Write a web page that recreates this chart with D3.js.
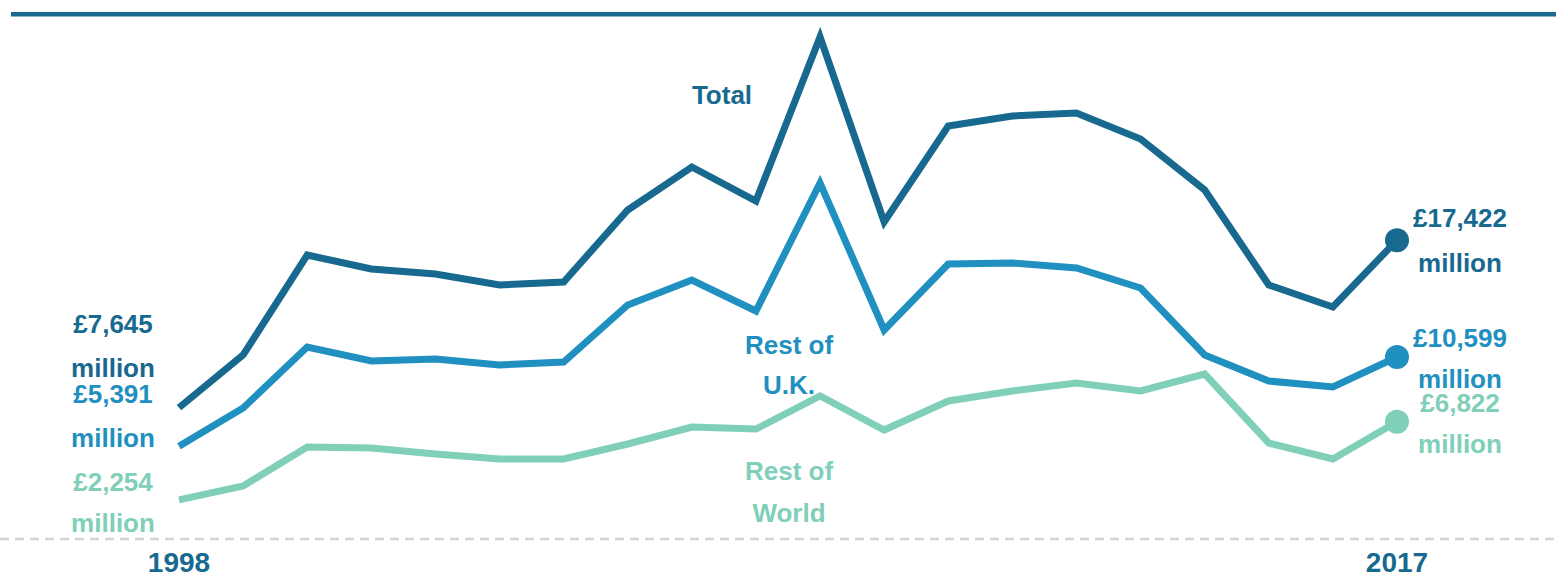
<!DOCTYPE html>
<html>
<head>
<meta charset="utf-8">
<script src="https://cdn.jsdelivr.net/npm/d3@7"></script>
<style>
  html, body { margin: 0; padding: 0; background: #fff; }
  svg text { font-family: "Liberation Sans", Arial, sans-serif; font-weight: bold; }
</style>
</head>
<body>
<svg id="chart" width="1556" height="577"></svg>
<script>
// years on the x axis
const years = d3.range(1998, 2018);
// £ million
const total = [7645, 10716, 16556, 15739, 15447, 14804, 14980, 19184, 21696, 19710,
  29288, 18484, 24090, 24674, 24849, 23331, 20352, 14804, 13520, 17422];
const restOfUK = [5391, 7621, 11184, 10366, 10483, 10132, 10308, 13636, 15096, 13286,
  20761, 12176, 16031, 16089, 15797, 14629, 10716, 9198, 8848, 10599];
const restOfWorld = [2254, 3066, 5344, 5285, 4935, 4643, 4643, 5519, 6512, 6395,
  8322, 6336, 8030, 8614, 9081, 8614, 9607, 5577, 4643, 6822];
const tickYears = [1998, 2017];

const series = [
  { key: 'total', values: total, color: '#17698f', name: ['Total'], nameX: 722, nameY: [104] },
  { key: 'uk', values: restOfUK, color: '#1f90c0', name: ['Rest of', 'U.K.'], nameX: 789, nameY: [354, 394] },
  { key: 'world', values: restOfWorld, color: '#7fcfb9', name: ['Rest of', 'World'], nameX: 789, nameY: [480, 522] }
];

const svg = d3.select('#chart');

const x = d3.scaleLinear().domain([1998, 2017]).range([179, 1397]);
const y = d3.scaleLinear().domain([0, 29200]).range([538.5, 38.5]);

// top rule
svg.append('line')
  .attr('x1', 11).attr('x2', 1556)
  .attr('y1', 14.3).attr('y2', 14.3)
  .attr('stroke', '#1a6a91')
  .attr('stroke-width', 4.5);

// dashed baseline
svg.append('line')
  .attr('x1', 0).attr('x2', 1556)
  .attr('y1', y(0) + 0.5).attr('y2', y(0) + 0.5)
  .attr('stroke', '#d4d4d4')
  .attr('stroke-width', 2.5)
  .attr('stroke-dasharray', '9,6');

const line = d3.line()
  .x((d, i) => x(years[i]))
  .y(d => y(d));

series.forEach(s => {
  svg.append('path')
    .attr('class', 'line-' + s.key)
    .attr('d', line(s.values))
    .attr('fill', 'none')
    .attr('stroke', s.color)
    .attr('stroke-width', 7)
    .attr('stroke-linejoin', 'miter');

  const last = s.values.length - 1;
  svg.append('circle')
    .attr('cx', x(years[last]))
    .attr('cy', y(s.values[last]))
    .attr('r', 12)
    .attr('fill', s.color);

  // series name
  s.name.forEach((t, i) => {
    svg.append('text')
      .attr('x', s.nameX)
      .attr('y', s.nameY[i])
      .attr('text-anchor', 'middle')
      .attr('font-size', 26)
      .attr('fill', s.color)
      .text(t);
  });
});

// end value labels
const fmt = d3.format(',');
const startLabelY = [[333, 377], [403, 447], [491, 532]];
const endLabelY = [[227, 272], [347, 388], [412, 453]];
series.forEach((s, k) => {
  const first = s.values[0];
  const lastV = s.values[s.values.length - 1];
  [['£' + fmt(first), 'million']].forEach(lines => {
    lines.forEach((t, i) => {
      svg.append('text')
        .attr('x', 113)
        .attr('y', startLabelY[k][i])
        .attr('text-anchor', 'middle')
        .attr('font-size', 26)
        .attr('fill', s.color)
        .text(t);
    });
  });
  ['£' + fmt(lastV), 'million'].forEach((t, i) => {
    svg.append('text')
      .attr('x', 1460)
      .attr('y', endLabelY[k][i])
      .attr('text-anchor', 'middle')
      .attr('font-size', 26)
      .attr('fill', s.color)
      .text(t);
  });
});

// year ticks
svg.selectAll('.year')
  .data(tickYears)
  .enter()
  .append('text')
  .attr('class', 'year')
  .attr('x', d => x(d))
  .attr('y', 572)
  .attr('text-anchor', 'middle')
  .attr('font-size', 28)
  .attr('fill', '#17698f')
  .text(d => d);
</script>
</body>
</html>
